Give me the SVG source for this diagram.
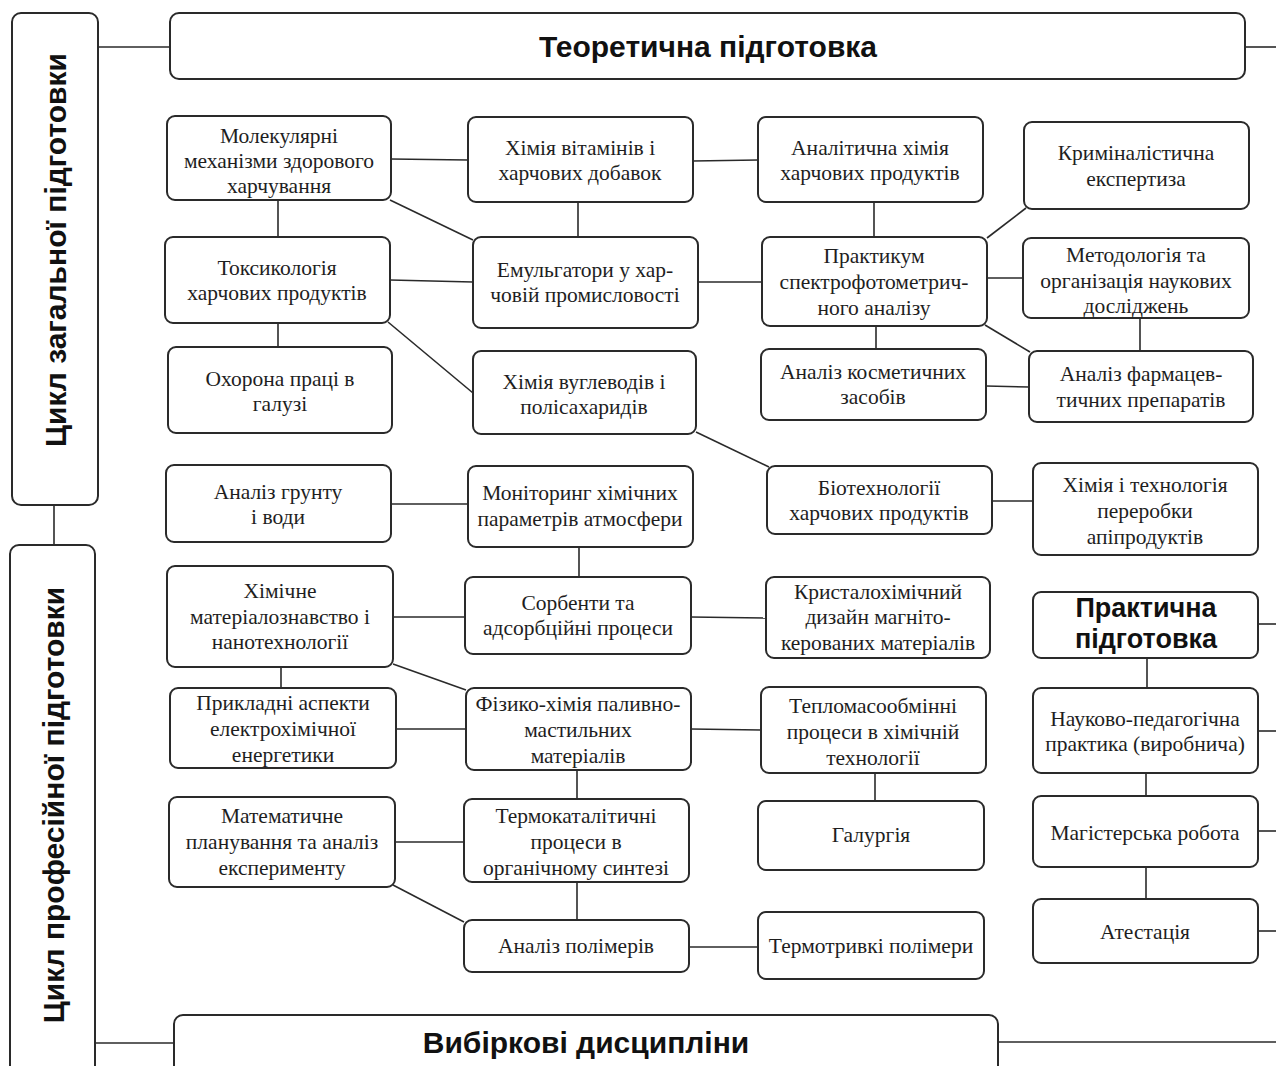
<svg xmlns="http://www.w3.org/2000/svg" width="1276" height="1066" viewBox="0 0 1276 1066">
<style>
.b{fill:#fff;stroke:#2a2a2a;stroke-width:2}
.c line{stroke:#2a2a2a;stroke-width:1.6}
.t{font-family:"Liberation Serif","Times New Roman",serif;font-size:21.5px;fill:#1e1e1e;text-anchor:middle}
.h{font-family:"Liberation Sans",Arial,sans-serif;font-weight:bold;font-size:30px;fill:#111;text-anchor:middle}
.p{font-family:"Liberation Sans",Arial,sans-serif;font-weight:bold;font-size:27px;fill:#111;text-anchor:middle}
</style>
<rect width="1276" height="1066" fill="#fff"/>
<g class="c" id="connectors">
<line x1="98" y1="47" x2="170" y2="47"/>
<line x1="1245" y1="47" x2="1276" y2="47"/>
<line x1="54" y1="505" x2="54" y2="545"/>
<line x1="95" y1="1043" x2="174" y2="1043"/>
<line x1="998" y1="1042" x2="1276" y2="1042"/>
<line x1="1258" y1="624" x2="1276" y2="624"/>
<line x1="1258" y1="731" x2="1276" y2="731"/>
<line x1="1258" y1="831" x2="1276" y2="831"/>
<line x1="1258" y1="931" x2="1276" y2="931"/>
<line x1="278" y1="200" x2="278" y2="237"/>
<line x1="278" y1="323" x2="278" y2="347"/>
<line x1="391" y1="159" x2="468" y2="160"/>
<line x1="390" y1="200" x2="473" y2="240"/>
<line x1="390" y1="280" x2="473" y2="282"/>
<line x1="388" y1="322" x2="473" y2="393"/>
<line x1="578" y1="202" x2="578" y2="237"/>
<line x1="693" y1="161" x2="758" y2="160"/>
<line x1="698" y1="282" x2="762" y2="282"/>
<line x1="696" y1="432" x2="769" y2="467"/>
<line x1="874" y1="202" x2="874" y2="237"/>
<line x1="876" y1="326" x2="876" y2="349"/>
<line x1="987" y1="238" x2="1026" y2="208"/>
<line x1="987" y1="278" x2="1023" y2="278"/>
<line x1="985" y1="325" x2="1030" y2="352"/>
<line x1="986" y1="386" x2="1029" y2="387"/>
<line x1="1140" y1="318" x2="1140" y2="351"/>
<line x1="391" y1="504" x2="468" y2="504"/>
<line x1="579" y1="547" x2="579" y2="577"/>
<line x1="992" y1="501" x2="1033" y2="501"/>
<line x1="393" y1="617" x2="465" y2="617"/>
<line x1="691" y1="617" x2="766" y2="618"/>
<line x1="281" y1="667" x2="281" y2="688"/>
<line x1="393" y1="664" x2="466" y2="690"/>
<line x1="396" y1="729" x2="466" y2="729"/>
<line x1="691" y1="729" x2="761" y2="730"/>
<line x1="577" y1="770" x2="577" y2="799"/>
<line x1="875" y1="773" x2="875" y2="801"/>
<line x1="1147" y1="658" x2="1147" y2="688"/>
<line x1="1146" y1="773" x2="1146" y2="796"/>
<line x1="1146" y1="867" x2="1146" y2="899"/>
<line x1="395" y1="842" x2="464" y2="842"/>
<line x1="393" y1="885" x2="464" y2="922"/>
<line x1="577" y1="882" x2="577" y2="920"/>
<line x1="689" y1="947" x2="758" y2="947"/>
</g>
<g id="cycle-general"><rect class="b" x="12" y="13" width="86" height="492" rx="9"/><text class="h" transform="translate(55,250) rotate(-90)" y="11">Цикл загальної підготовки</text></g>
<g id="cycle-prof"><rect class="b" x="10" y="545" width="85" height="530" rx="9"/><text class="h" transform="translate(53,805) rotate(-90)" y="11">Цикл професійної підготовки</text></g>
<g id="theory"><rect class="b" x="170" y="13" width="1075" height="66" rx="9"/><text class="h" x="708" y="57">Теоретична підготовка</text></g>
<g id="elective"><rect class="b" x="174" y="1015" width="824" height="70" rx="9"/><text class="h" x="586" y="1053">Вибіркові дисципліни</text></g>

<g id="n-mol"><rect class="b" x="167" y="116" width="224" height="84" rx="8"/><text class="t"><tspan x="279" y="143">Молекулярні</tspan><tspan x="279" y="168">механізми здорового</tspan><tspan x="279" y="193">харчування</tspan></text></g>
<g id="n-tox"><rect class="b" x="165" y="237" width="225" height="86" rx="8"/><text class="t"><tspan x="277" y="275">Токсикологія</tspan><tspan x="277" y="300">харчових продуктів</tspan></text></g>
<g id="n-ohor"><rect class="b" x="168" y="347" width="224" height="86" rx="8"/><text class="t"><tspan x="280" y="386">Охорона праці в</tspan><tspan x="280" y="411">галузі</tspan></text></g>
<g id="n-vit"><rect class="b" x="468" y="117" width="225" height="85" rx="8"/><text class="t"><tspan x="580" y="155">Хімія вітамінів і</tspan><tspan x="580" y="180">харчових добавок</tspan></text></g>
<g id="n-emul"><rect class="b" x="473" y="237" width="225" height="91" rx="8"/><text class="t"><tspan x="585" y="277">Емульгатори у хар-</tspan><tspan x="585" y="302">човій промисловості</tspan></text></g>
<g id="n-vugl"><rect class="b" x="473" y="351" width="223" height="83" rx="8"/><text class="t"><tspan x="584" y="389">Хімія вуглеводів і</tspan><tspan x="584" y="414">полісахаридів</tspan></text></g>
<g id="n-anal"><rect class="b" x="758" y="117" width="225" height="85" rx="8"/><text class="t"><tspan x="870" y="155">Аналітична хімія</tspan><tspan x="870" y="180">харчових продуктів</tspan></text></g>
<g id="n-prakt"><rect class="b" x="762" y="237" width="225" height="89" rx="8"/><text class="t"><tspan x="874" y="263">Практикум</tspan><tspan x="874" y="289">спектрофотометрич-</tspan><tspan x="874" y="315">ного аналізу</tspan></text></g>
<g id="n-kosm"><rect class="b" x="761" y="349" width="225" height="71" rx="8"/><text class="t"><tspan x="873" y="379">Аналіз косметичних</tspan><tspan x="873" y="404">засобів</tspan></text></g>
<g id="n-krim"><rect class="b" x="1024" y="122" width="225" height="87" rx="8"/><text class="t"><tspan x="1136" y="160">Криміналістична</tspan><tspan x="1136" y="186">експертиза</tspan></text></g>
<g id="n-metod"><rect class="b" x="1023" y="238" width="226" height="80" rx="8"/><text class="t"><tspan x="1136" y="262">Методологія та</tspan><tspan x="1136" y="288">організація наукових</tspan><tspan x="1136" y="313">досліджень</tspan></text></g>
<g id="n-farm"><rect class="b" x="1029" y="351" width="224" height="71" rx="8"/><text class="t"><tspan x="1141" y="381">Аналіз фармацев-</tspan><tspan x="1141" y="407">тичних препаратів</tspan></text></g>

<g id="n-grunt"><rect class="b" x="166" y="465" width="225" height="77" rx="8"/><text class="t"><tspan x="278" y="499">Аналіз грунту</tspan><tspan x="278" y="524">і води</tspan></text></g>
<g id="n-monit"><rect class="b" x="468" y="466" width="225" height="81" rx="8"/><text class="t"><tspan x="580" y="500">Моніторинг хімічних</tspan><tspan x="580" y="526">параметрів атмосфери</tspan></text></g>
<g id="n-biot"><rect class="b" x="767" y="466" width="225" height="68" rx="8"/><text class="t"><tspan x="879" y="495">Біотехнології</tspan><tspan x="879" y="520">харчових продуктів</tspan></text></g>
<g id="n-api"><rect class="b" x="1033" y="463" width="225" height="92" rx="8"/><text class="t"><tspan x="1145" y="492">Хімія і технологія</tspan><tspan x="1145" y="518">переробки</tspan><tspan x="1145" y="544">апіпродуктів</tspan></text></g>
<g id="n-mater"><rect class="b" x="167" y="566" width="226" height="101" rx="8"/><text class="t"><tspan x="280" y="598">Хімічне</tspan><tspan x="280" y="624">матеріалознавство і</tspan><tspan x="280" y="649">нанотехнології</tspan></text></g>
<g id="n-sorb"><rect class="b" x="465" y="577" width="226" height="77" rx="8"/><text class="t"><tspan x="578" y="610">Сорбенти та</tspan><tspan x="578" y="635">адсорбційні процеси</tspan></text></g>
<g id="n-kryst"><rect class="b" x="766" y="577" width="224" height="81" rx="8"/><text class="t"><tspan x="878" y="599">Кристалохімічний</tspan><tspan x="878" y="624">дизайн магніто-</tspan><tspan x="878" y="650">керованих матеріалів</tspan></text></g>
<g id="n-praktych"><rect class="b" x="1033" y="592" width="225" height="66" rx="8"/><text class="p"><tspan x="1146" y="617">Практична</tspan><tspan x="1146" y="648">підготовка</tspan></text></g>
<g id="n-prykl"><rect class="b" x="170" y="688" width="226" height="80" rx="8"/><text class="t"><tspan x="283" y="710">Прикладні аспекти</tspan><tspan x="283" y="736">електрохімічної</tspan><tspan x="283" y="762">енергетики</tspan></text></g>
<g id="n-fiz"><rect class="b" x="466" y="688" width="225" height="82" rx="8"/><text class="t"><tspan x="578" y="711">Фізико-хімія паливно-</tspan><tspan x="578" y="737">мастильних</tspan><tspan x="578" y="763">матеріалів</tspan></text></g>
<g id="n-teplo"><rect class="b" x="761" y="687" width="225" height="86" rx="8"/><text class="t"><tspan x="873" y="713">Тепломасообмінні</tspan><tspan x="873" y="739">процеси в хімічній</tspan><tspan x="873" y="765">технології</tspan></text></g>
<g id="n-nauk"><rect class="b" x="1033" y="688" width="225" height="85" rx="8"/><text class="t"><tspan x="1145" y="726">Науково-педагогічна</tspan><tspan x="1145" y="751">практика (виробнича)</tspan></text></g>
<g id="n-matem"><rect class="b" x="169" y="797" width="226" height="90" rx="8"/><text class="t"><tspan x="282" y="823">Математичне</tspan><tspan x="282" y="849">планування та аналіз</tspan><tspan x="282" y="875">експерименту</tspan></text></g>
<g id="n-termokat"><rect class="b" x="464" y="799" width="225" height="83" rx="8"/><text class="t"><tspan x="576" y="823">Термокаталітичні</tspan><tspan x="576" y="849">процеси в</tspan><tspan x="576" y="875">органічному синтезі</tspan></text></g>
<g id="n-galur"><rect class="b" x="758" y="801" width="226" height="69" rx="8"/><text class="t"><tspan x="871" y="842">Галургія</tspan></text></g>
<g id="n-magist"><rect class="b" x="1033" y="796" width="225" height="71" rx="8"/><text class="t"><tspan x="1145" y="840">Магістерська робота</tspan></text></g>
<g id="n-polim"><rect class="b" x="464" y="920" width="225" height="52" rx="8"/><text class="t"><tspan x="576" y="953">Аналіз полімерів</tspan></text></g>
<g id="n-termotr"><rect class="b" x="758" y="912" width="226" height="67" rx="8"/><text class="t"><tspan x="871" y="953">Термотривкі полімери</tspan></text></g>
<g id="n-atest"><rect class="b" x="1033" y="899" width="225" height="64" rx="8"/><text class="t"><tspan x="1145" y="939">Атестація</tspan></text></g>
</svg>
